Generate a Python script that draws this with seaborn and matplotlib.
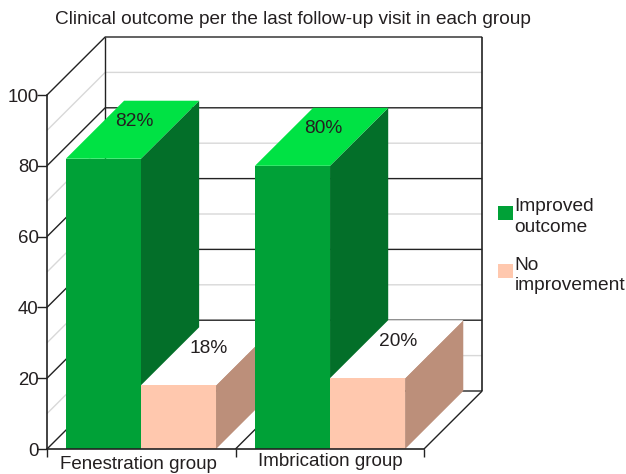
import matplotlib
matplotlib.use("Agg")
import matplotlib.pyplot as plt
from matplotlib.patches import Polygon
import pandas as pd
import seaborn as sns

groups = ["Fenestration group", "Imbrication group"]
improved = [82, 80]
no_improvement = [18, 20]
outcomes = ["Improved\noutcome", "No\nimprovement"]
y_ticks = [0, 20, 40, 60, 80, 100]
grey_lines = [10, 30, 50, 70, 90]

front_colors = {outcomes[0]: "#00A137", outcomes[1]: "#FFC8AE"}
side_colors = {"#00A137": "#036F29", "#FFC8AE": "#BC8F7A"}
top_colors = {"#00A137": "#00E244", "#FFC8AE": "#FFFFFF"}
txt = "#231F20"

sns.set_theme(style="white")
plt.rcParams["font.family"] = ["Liberation Sans", "DejaVu Sans"]

df = pd.DataFrame({
    "group": groups * 2,
    "value": improved + no_improvement,
    "outcome": [outcomes[0]] * 2 + [outcomes[1]] * 2,
})

fig = plt.figure(figsize=(6.26, 4.74), dpi=100)
ax = fig.add_axes([47 / 626, 25 / 474, 377 / 626, 354 / 474])
ax.patch.set_alpha(0)

sns.barplot(data=df, x="group", y="value", hue="outcome", palette=front_colors,
            width=0.794, gap=0, saturation=1, linewidth=0, ax=ax)
ax.set_xlim(-0.497, 1.497)
ax.set_ylim(0, 100)

# fake 3d depth, same offset for walls and bars
dx = 58 / 188.5
dy = 58 / 3.54
x0, x1 = ax.get_xlim()


def line(xs, ys, color, lw=1.0, z=0.5):
    ax.plot(xs, ys, color=color, lw=lw, clip_on=False, zorder=z, solid_capstyle="butt")


for v in grey_lines:
    line([x0, x0 + dx, x1 + dx], [v, v + dy, v + dy], "#D8D8D8", 1.0, 0.4)
for v in y_ticks:
    line([x0, x0 + dx, x1 + dx], [v, v + dy, v + dy], "#222222", 1.0)
line([x0 + dx, x0 + dx], [dy, 100 + dy], "#222222")
line([x1 + dx, x1 + dx], [dy, 100 + dy], "#222222", 1.2)
line([x1, x1 + dx], [0, dy], "#222222")
line([0.5, 0.5 + dx], [0, dy], "#222222")

bars = [b for c in ax.containers for b in c]
bars.sort(key=lambda b: b.get_x())
for i, b in enumerate(bars):
    xl, w, h = b.get_x(), b.get_width(), b.get_height()
    col = matplotlib.colors.to_hex(b.get_facecolor()).upper()
    z = 3 + i * 2
    side = [(xl + w, 0), (xl + w + dx, dy), (xl + w + dx, h + dy), (xl + w, h)]
    top = [(xl, h), (xl + dx, h + dy), (xl + w + dx, h + dy), (xl + w, h)]
    ax.add_patch(Polygon(side, fc=side_colors[col], ec="none", clip_on=False, zorder=z))
    ax.add_patch(Polygon(top, fc=top_colors[col], ec="none", clip_on=False, zorder=z))
    b.set_zorder(z + 1)
    ax.text(xl + w / 2 + dx / 2 + 0.008, h + dy / 2 + 2.3, f"{h:.0f}%", ha="center", va="center",
            fontsize=13.8, color=txt, zorder=30)

sns.despine(ax=ax)
for s in ["left", "bottom"]:
    ax.spines[s].set_color("#222222")
    ax.spines[s].set_linewidth(1.2)
    ax.spines[s].set_zorder(20)

ax.set_xlabel("")
ax.set_ylabel("")
ax.set_yticks(y_ticks)
ax.set_xticks([-0.016, 1], groups)
ax.set_xticks([-0.497, 0.5, 1.497], minor=True)
ax.tick_params(axis="y", left=True, length=7, width=1, color="#222222", labelsize=13.4,
               labelcolor=txt, pad=-1)
ax.tick_params(axis="x", which="major", bottom=False, labelsize=13.5, labelcolor=txt, pad=-1)
ax.xaxis.get_major_ticks()[1].set_pad(-3)
ax.tick_params(axis="x", which="minor", bottom=True, length=6, width=1, color="#222222")

fig.text(55 / 626, 1 - 19 / 474, "Clinical outcome per the last follow-up visit in each group",
         fontsize=13.65, color=txt, va="center", ha="left")

leg = ax.legend(loc="upper left", bbox_to_anchor=(492 / 626, 1 - 192.5 / 474),
                bbox_transform=fig.transFigure, frameon=False, fontsize=13.8,
                handlelength=0.8, handleheight=0.75, handletextpad=0.08,
                labelspacing=1.12, borderpad=0.3, borderaxespad=0)
for t in leg.get_texts():
    t.set_color(txt)
    t.set_linespacing(1.25)
# swatches sit a bit above the middle of the two lines
for h in leg.legend_handles:
    h.set_y(h.get_y() + 3)

fig.savefig("out.png", dpi=100)
